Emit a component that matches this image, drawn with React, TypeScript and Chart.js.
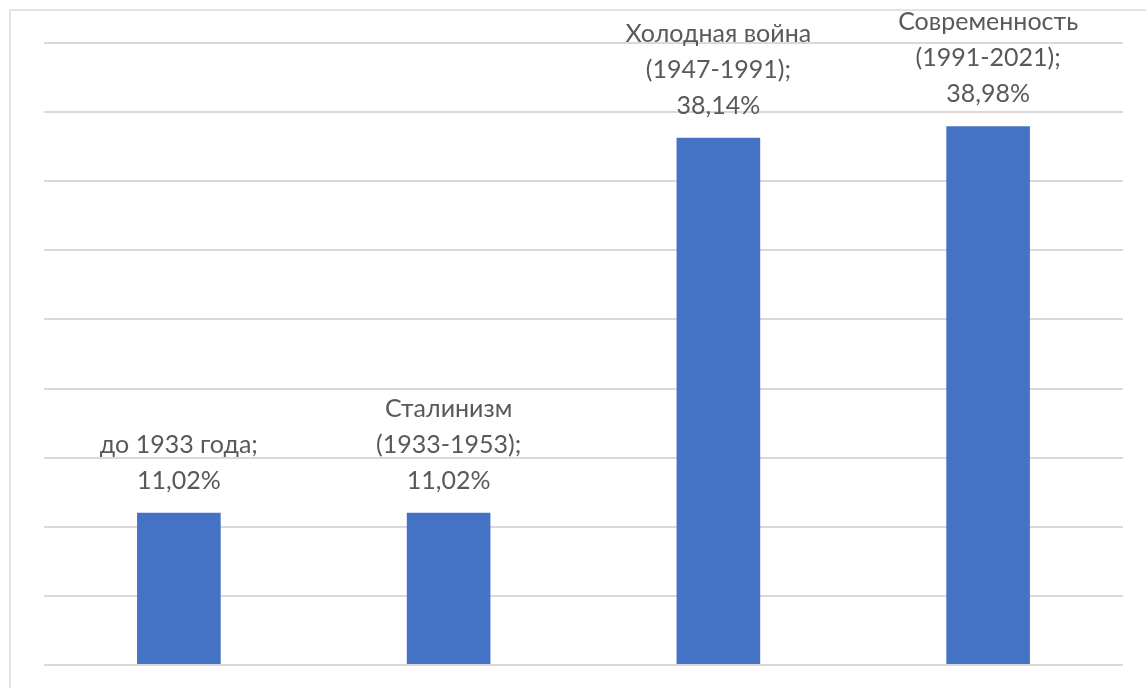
import React, { useEffect, useRef } from "react";
import { Chart, registerables } from "chart.js";

Chart.register(...registerables);

// Periods (label lines as printed above each bar)
const periods: string[][] = [
  ["до 1933 года;"],
  ["Сталинизм", "(1933-1953);"],
  ["Холодная война", "(1947-1991);"],
  ["Современность", "(1991-2021);"],
];

// Share of the total, percent
const shares: number[] = [11.02, 11.02, 38.14, 38.98];

const yMin = 0;
const yMax = 45;
const yStep = 5;

const BAR_COLOR = "#4472c4";
const TEXT_COLOR = "#595959";
const GRID_COLOR = "#d9d9d9";
const FONT = "Lato, 'Open Sans', sans-serif";

const formatShare = (v: number) => v.toFixed(2).replace(".", ",") + "%";

// Draws "category; value%" labels stacked above each bar
const barLabels = {
  id: "barLabels",
  afterDatasetsDraw(chart: any) {
    const { ctx } = chart;
    const meta = chart.getDatasetMeta(0);
    ctx.save();
    ctx.fillStyle = TEXT_COLOR;
    ctx.font = `25px ${FONT}`;
    ctx.textAlign = "center";
    ctx.textBaseline = "middle";
    const lineH = 36;
    meta.data.forEach((bar: any, i: number) => {
      const lines = [...periods[i], formatShare(shares[i])];
      const lastY = bar.y - 32;
      lines.forEach((line, j) => {
        const y = lastY - (lines.length - 1 - j) * lineH;
        ctx.fillText(line, bar.x, y);
      });
    });
    ctx.restore();
  },
};

export default function App() {
  const canvasRef = useRef<HTMLCanvasElement>(null);

  useEffect(() => {
    if (!canvasRef.current) return;
    const chart = new Chart(canvasRef.current, {
      type: "bar",
      data: {
        labels: periods.map((p) => p.join(" ")),
        datasets: [
          {
            data: shares,
            backgroundColor: BAR_COLOR,
            borderWidth: 0,
            categoryPercentage: 1,
            barPercentage: 0.31,
          },
        ],
      },
      options: {
        animation: false,
        responsive: false,
        maintainAspectRatio: false,
        layout: { padding: { left: 44, right: 23, top: 43, bottom: 23 } },
        plugins: {
          legend: { display: false },
          tooltip: { enabled: false },
          title: { display: false },
        },
        scales: {
          x: {
            display: true,
            grid: { display: false, drawTicks: false },
            border: { display: false },
            ticks: { display: false },
          },
          y: {
            min: yMin,
            max: yMax,
            grid: {
              color: GRID_COLOR,
              lineWidth: 2,
              drawTicks: false,
            },
            border: { display: false },
            ticks: { display: false, stepSize: yStep },
          },
        },
      },
      plugins: [barLabels],
    });
    return () => chart.destroy();
  }, []);

  return (
    <div
      style={{
        position: "fixed",
        left: 0,
        top: 0,
        width: 1146,
        height: 688,
        background: "#ffffff",
        overflow: "hidden",
      }}
    >
      <div
        style={{
          position: "absolute",
          left: 9,
          top: 9,
          right: -10,
          bottom: -10,
          borderTop: "2px solid #e3e3e3",
          borderLeft: "2px solid #e3e3e3",
        }}
      />
      <canvas
        ref={canvasRef}
        width={1146}
        height={688}
        style={{ position: "absolute", left: 0, top: 0 }}
      />
    </div>
  );
}
